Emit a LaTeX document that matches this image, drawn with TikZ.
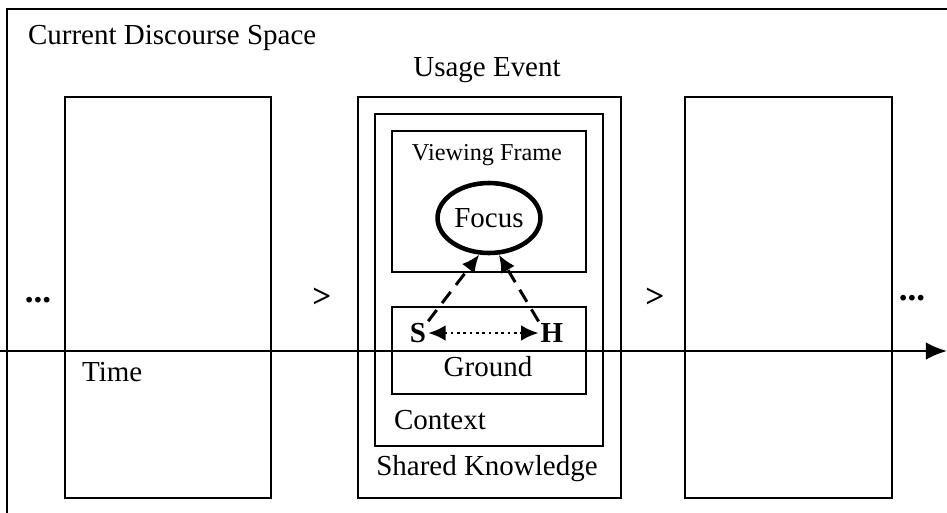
\documentclass[tikz,border=0pt]{standalone}
\usepackage{fontspec}
\setmainfont{Liberation Serif}
\usetikzlibrary{positioning,shapes.geometric,arrows.meta}

\tikzstyle{box} = [rectangle, draw=black, line width=1.3pt, anchor=north west, inner sep=0pt]
\tikzstyle{txt} = [font=\fontsize{16.5}{18}\selectfont, inner sep=1pt]
\tikzstyle{bold} = [font=\fontsize{16.5}{18}\selectfont\bfseries, inner sep=1pt]
\tikzstyle{focus} = [ellipse, draw=black, line width=2.6pt, minimum width=1.7cm, minimum height=1.4cm, inner sep=0pt]
\tikzstyle{seearrow} = [line width=1.7pt, dash pattern=on 8pt off 5pt, -{Latex[length=10pt,width=9pt]}]
\tikzstyle{talkarrow} = [line width=1.6pt, dotted, {Latex[length=10pt,width=9pt]}-{Latex[length=10pt,width=9pt]}]
\tikzstyle{timearrow} = [line width=1.3pt, -{Latex[length=12pt,width=10pt]}]

\begin{document}
\begin{tikzpicture}[x=0.02cm, y=-0.02cm]
	\useasboundingbox (0,0) rectangle (947,512);
	% current discourse space (cut off at the right and bottom)
	\draw [line width=1.3pt] (7,520) |- (955,9);
	\node (cds) [txt, anchor=west] at (26,38) {Current Discourse Space};

	% previous and next usage events
	\node (prevbox) [box, minimum width=4.12cm, minimum height=8.02cm] at (64,96) {};
	\node (nextbox) [box, minimum width=4.14cm, minimum height=8.02cm] at (684,96) {};

	% usage event
	\node (shared) [box, minimum width=5.26cm, minimum height=8.02cm] at (357,96) {};
	\node (context) [box, minimum width=4.56cm, minimum height=6.64cm] at (374,113) {};
	\node (frame) [box, minimum width=3.88cm, minimum height=2.82cm] at (391,130) {};
	\node (ground) [box, minimum width=3.88cm, minimum height=1.74cm] at (391,306) {};
	\node (usage) [txt] at (487,70) {Usage Event};
	\node (framelabel) [txt, font=\fontsize{13.8}{15}\selectfont] at (487,155) {Viewing Frame};
	\node (focus) [focus, txt] at (489,218) {Focus};
	\node (groundlabel) [txt] at (488,367) {Ground};
	\node (contextlabel) [txt, anchor=west] at (392,420) {Context};
	\node (sharedlabel) [txt] at (487,469) {Shared Knowledge};
	\node (S) [bold] at (418,333) {S};
	\node (H) [bold] at (552,333) {H};

	% time line
	\coordinate (tstart) at (0,351);
	\coordinate (tend) at (947,351);
	\draw [timearrow] (tstart) -- (tend);
	\node (timelabel) [txt, anchor=west] at (80,372) {Time};

	\node (dotsleft) [bold, font=\fontsize{20}{22}\selectfont\bfseries] at (38,300) {...};
	\node (gtleft) [bold, font=\fontsize{19}{20}\selectfont\bfseries] at (322,298) {>};
	\node (gtright) [bold, font=\fontsize{19}{20}\selectfont\bfseries] at (655,298) {>};
	\node (dotsright) [bold, font=\fontsize{20}{22}\selectfont\bfseries] at (912,298) {...};

	\draw [seearrow] (S.north east) -- (focus.255);
	\draw [seearrow] (H.north west) -- (focus.285);
	\draw [talkarrow] (S.east) -- (H.west);
\end{tikzpicture}
\end{document}
